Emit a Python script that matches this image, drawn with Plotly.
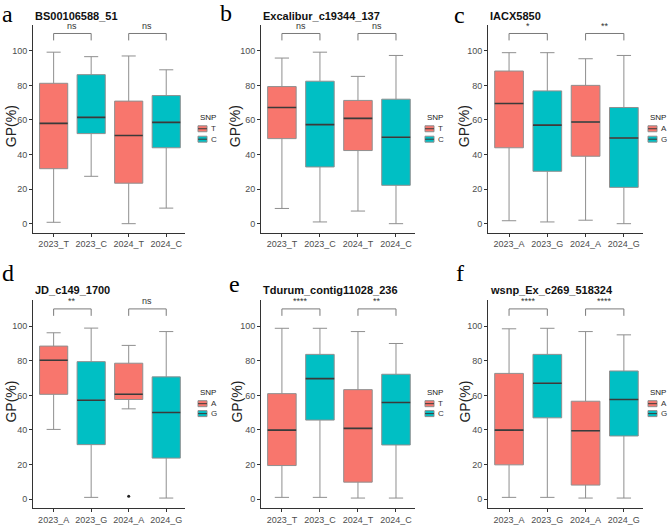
import plotly.graph_objects as go

W, H = 669, 525

panel_titles = ["BS00106588_51", "Excalibur_c19344_137", "IACX5850",
                "JD_c149_1700", "Tdurum_contig11028_236", "wsnp_Ex_c269_518324"]
panel_letters = ["a", "b", "c", "d", "e", "f"]
alleles = [("T", "C"), ("T", "C"), ("A", "G"), ("A", "G"), ("T", "C"), ("A", "G")]
years = ["2023", "2024"]

lower = [
    [0.8, 27.4, 0.0, 9.0],
    [8.8, 1.0, 7.3, 0.0],
    [1.7, 1.0, 2.0, 0.0],
    [40.3, 1.0, 52.2, 0.6],
    [1.0, 1.0, 0.6, 0.6],
    [1.0, 1.0, 0.6, 0.6],
]
q1 = [
    [31.8, 52.1, 23.4, 43.9],
    [49.2, 32.8, 42.3, 22.2],
    [43.9, 30.3, 39.0, 21.0],
    [60.6, 31.5, 57.6, 23.7],
    [19.4, 45.7, 9.8, 31.3],
    [19.8, 47.0, 8.1, 36.5],
]
median = [
    [58.0, 61.5, 51.0, 58.6],
    [67.2, 57.3, 60.9, 50.0],
    [69.5, 57.0, 58.8, 49.6],
    [80.3, 57.2, 60.6, 50.1],
    [39.9, 69.7, 40.9, 55.9],
    [39.9, 67.0, 39.5, 57.6],
]
q3 = [
    [81.2, 86.2, 70.9, 74.1],
    [79.3, 82.4, 71.3, 72.0],
    [88.3, 76.8, 80.0, 67.2],
    [88.5, 79.5, 78.6, 70.7],
    [61.0, 83.7, 63.3, 72.2],
    [72.7, 83.7, 56.6, 74.1],
]
upper = [
    [99.2, 96.6, 97.0, 89.0],
    [95.8, 99.2, 85.2, 97.3],
    [98.9, 98.9, 95.4, 97.3],
    [96.2, 98.9, 88.9, 96.9],
    [98.8, 98.8, 96.9, 90.0],
    [98.5, 98.8, 96.9, 95.0],
]
signif = [["ns", "ns"], ["ns", "ns"], ["*", "**"], ["**", "ns"], ["****", "**"], ["****", "****"]]
outliers = {3: ([2], [1.7])}  # panel d, 2024_A

colors = ["#F8766D", "#00BFC4"]
bracket_y = 110
bracket_tip = 106
yticks = [0, 20, 40, 60, 80, 100]

# layout geometry (pixels)
col_x = [(33, 185), (261, 415), (488, 643)]
row_y = [(25, 234), (302, 511)]
legend_x = [198, 425, 648]
legend_title_y = [118, 395]
legend_step = [10.5, 10]
ytitle_x = [[11, 235, 464], [11, 237, 465]]
letter_pos = [(7, 14), (226, 13), (460, 15), (8, 275), (235, 286), (460, 275)]
title_y = [16, 292]

fig = go.Figure()
annotations = []
shapes = []
box_w = 0.75
FONT = "Liberation Sans"

for p in range(6):
    r, c = divmod(p, 3)
    ax = "" if p == 0 else str(p + 1)
    xref, yref = "x" + ax, "y" + ax
    cats = [f"{y}_{a}" for y in years for a in alleles[p]]
    for g in range(2):
        idx = [g, g + 2]
        fig.add_trace(go.Box(
            x=idx, q1=[q1[p][i] for i in idx], median=[median[p][i] for i in idx],
            q3=[q3[p][i] for i in idx], lowerfence=[lower[p][i] for i in idx],
            upperfence=[upper[p][i] for i in idx],
            name=alleles[p][g], fillcolor=colors[g],
            line=dict(color="#8f8f8f", width=1), width=box_w,
            boxpoints=False, xaxis=xref, yaxis=yref,
            showlegend=False, hoverinfo="skip",
        ))
    # median lines (darker, thicker)
    mx, my = [], []
    for i in range(4):
        mx += [i - box_w / 2, i + box_w / 2, None]
        my += [median[p][i], median[p][i], None]
    fig.add_trace(go.Scatter(x=mx, y=my, mode="lines", line=dict(color="#3a3a3a", width=1.6),
                             xaxis=xref, yaxis=yref, showlegend=False, hoverinfo="skip"))
    # outliers
    if p in outliers:
        ox, oy = outliers[p]
        fig.add_trace(go.Scatter(x=ox, y=oy, mode="markers", marker=dict(color="#222", size=3),
                                 xaxis=xref, yaxis=yref, showlegend=False, hoverinfo="skip"))
    # brackets
    bx, by = [], []
    for k in range(2):
        a0, a1 = 2 * k, 2 * k + 1
        bx += [a0, a0, a1, a1, None]
        by += [bracket_tip, bracket_y, bracket_y, bracket_tip, None]
        annotations.append(dict(x=(a0 + a1) / 2, y=bracket_y + 0.5, xref=xref, yref=yref,
                                text=signif[p][k], showarrow=False, yanchor="bottom",
                                font=dict(family=FONT, size=9, color="#333")))
    fig.add_trace(go.Scatter(x=bx, y=by, mode="lines", line=dict(color="#7a7a7a", width=1),
                             xaxis=xref, yaxis=yref, showlegend=False, hoverinfo="skip"))

    x0, x1 = col_x[c]
    y0, y1 = row_y[r]
    fig.layout["xaxis" + ax] = dict(
        domain=[x0 / W, x1 / W], anchor=yref, range=[-0.55, 3.5],
        tickmode="array", tickvals=[0, 1, 2, 3], ticktext=cats,
        showline=True, linecolor="#333", linewidth=1, ticks="outside", ticklen=3,
        tickcolor="#333", showgrid=False, zeroline=False,
        tickfont=dict(family=FONT, size=9, color="#4d4d4d"),
    )
    fig.layout["yaxis" + ax] = dict(
        domain=[1 - y1 / H, 1 - y0 / H], anchor=xref, range=[-5.2, 115],
        tickmode="array", tickvals=yticks,
        showline=True, linecolor="#333", linewidth=1, ticks="outside", ticklen=3,
        tickcolor="#333", showgrid=False, zeroline=False,
        tickfont=dict(family=FONT, size=9, color="#4d4d4d"),
    )
    # manual legend
    lx = legend_x[c]
    ty = legend_title_y[r]
    annotations.append(dict(x=lx / W, y=1 - ty / H, xref="paper", yref="paper",
                            text="SNP", showarrow=False, xanchor="left", yanchor="middle",
                            font=dict(family=FONT, size=8, color="#222")))
    for g in range(2):
        ky = ty + legend_step[r] * (g + 1) + 1
        shapes.append(dict(type="rect", xref="paper", yref="paper",
                           x0=lx / W, x1=(lx + 9) / W, y0=1 - (ky - 3) / H, y1=1 - (ky + 3) / H,
                           fillcolor=colors[g], line=dict(color="#8f8f8f", width=1)))
        shapes.append(dict(type="line", xref="paper", yref="paper",
                           x0=lx / W, x1=(lx + 9) / W, y0=1 - ky / H, y1=1 - ky / H,
                           line=dict(color="#3a3a3a", width=1)))
        annotations.append(dict(x=(lx + 11) / W, y=1 - ky / H, xref="paper", yref="paper",
                                text=alleles[p][g], showarrow=False, xanchor="left",
                                yanchor="middle",
                                font=dict(family=FONT, size=8, color="#333")))
    # panel title
    annotations.append(dict(x=x0 / W, y=1 - title_y[r] / H, xref="paper", yref="paper",
                            text="<b>" + panel_titles[p] + "</b>", showarrow=False,
                            xanchor="left", yanchor="middle",
                            font=dict(family=FONT, size=11, color="#111")))
    # y title
    annotations.append(dict(x=ytitle_x[r][c] / W, y=1 - (y0 + y1) / 2 / H + 0.005,
                            xref="paper", yref="paper", text="GP(%)", showarrow=False,
                            textangle=-90, xanchor="center", yanchor="middle",
                            font=dict(family=FONT, size=14, color="#222")))
    # panel letter
    lpx, lpy = letter_pos[p]
    annotations.append(dict(x=lpx / W, y=1 - lpy / H, xref="paper", yref="paper",
                            text=panel_letters[p], showarrow=False, xanchor="center",
                            yanchor="middle",
                            font=dict(family="Liberation Serif", size=24, color="#000")))

fig.update_layout(
    width=W, height=H, margin=dict(l=0, r=0, t=0, b=0),
    paper_bgcolor="white", plot_bgcolor="white", showlegend=False,
    boxmode="overlay", annotations=annotations, shapes=shapes,
)
fig.write_html("out.html")
